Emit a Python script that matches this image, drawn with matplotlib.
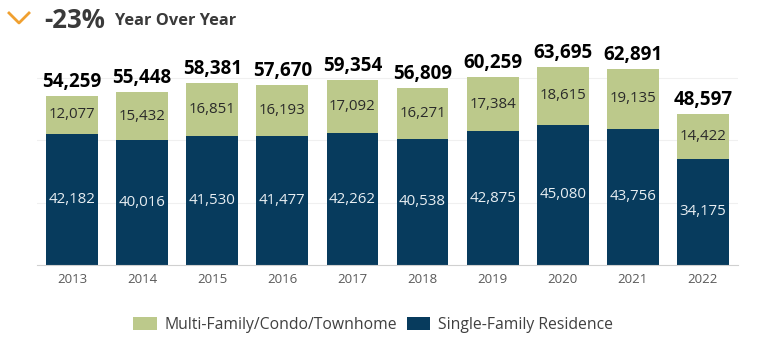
import matplotlib.pyplot as plt
from matplotlib.lines import Line2D

years = ['2013', '2014', '2015', '2016', '2017', '2018', '2019', '2020', '2021', '2022']
single_family = [42182, 40016, 41530, 41477, 42262, 40538, 42875, 45080, 43756, 34175]
multi_family = [12077, 15432, 16851, 16193, 17092, 16271, 17384, 18615, 19135, 14422]
totals = [s + m for s, m in zip(single_family, multi_family)]

navy = '#073B5D'
green = '#BCC98B'

plt.rcParams['font.family'] = ['Open Sans', 'DejaVu Sans']

fig = plt.figure(figsize=(7.81, 3.48), dpi=100)
ax = fig.add_axes([37 / 781, 83 / 348, 701 / 781, 218 / 348])

x = range(len(years))
ax.bar(x, single_family, width=0.74, color=navy, label='Single-Family Residence')
ax.bar(x, multi_family, width=0.74, bottom=single_family, color=green,
       label='Multi-Family/Condo/Townhome')

for i in x:
    ax.text(i, single_family[i] / 2, f'{single_family[i]:,}', ha='center', va='center',
            color='#E8EEF2', fontsize=10.8)
    ax.text(i, single_family[i] + multi_family[i] / 2, f'{multi_family[i]:,}',
            ha='center', va='center', color='#2A2A2A', fontsize=10.8)
    ax.text(i, totals[i] + 1300, f'{totals[i]:,}', ha='center', va='bottom',
            color='black', fontsize=13.5, fontweight='bold')

ax.set_xlim(-0.5, len(years) - 0.5)
ax.set_ylim(0, 70000)
ax.set_xticks(list(x))
ax.set_xticklabels(years, color='#595959', fontsize=9.5)
ax.set_yticks([20000, 40000, 60000])
ax.set_yticklabels([])
ax.tick_params(axis='both', length=0)
ax.tick_params(axis='x', pad=6)
ax.grid(axis='y', color='#F0F0F0', linewidth=0.8)
ax.set_axisbelow(True)
for side in ['top', 'right', 'left']:
    ax.spines[side].set_visible(False)
ax.spines['bottom'].set_color('#D0D0D0')

# header: orange chevron + headline
fig.add_artist(Line2D([9 / 781, 19 / 781, 29 / 781], [1 - 13 / 348, 1 - 23 / 348, 1 - 13 / 348],
                      color='#F0A030', linewidth=2))
fig.text(44 / 781, 1 - 20 / 348, '-23%', fontsize=18.5, fontweight='bold',
         color='#3A3A3A', va='center')
fig.text(115 / 781, 1 - 21 / 348, 'Year Over Year', fontsize=11.8, fontweight='bold',
         color='#3A3A3A', va='center')

handles, labels = ax.get_legend_handles_labels()
fig.legend(handles[::-1], labels[::-1], loc='center', bbox_to_anchor=(373 / 781, 1 - 325 / 348),
           ncol=2, frameon=False, fontsize=11.3, handlelength=1.5, handleheight=0.9,
           columnspacing=0.6, handletextpad=0.5, labelcolor='#404040')

plt.savefig('out.png', dpi=100)
